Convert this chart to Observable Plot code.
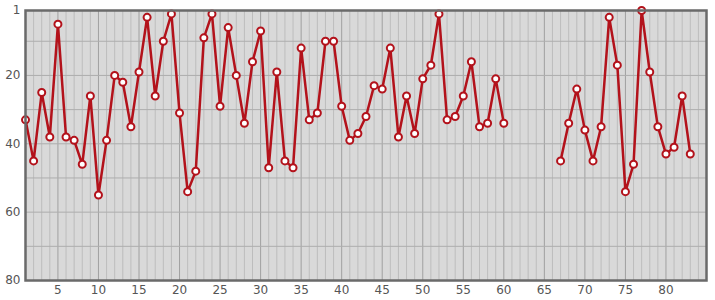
<!DOCTYPE html>
<html><head><meta charset="utf-8">
<script src="https://cdn.jsdelivr.net/npm/d3@7"></script>
<script src="https://cdn.jsdelivr.net/npm/@observablehq/plot@0.6"></script>
<style>body{margin:0;background:#fff}</style>
</head><body><div id="chart"></div>
<script>
const xValues = [1,2,3,4,5,6,7,8,9,10,11,12,13,14,15,16,17,18,19,20,
  21,22,23,24,25,26,27,28,29,30,31,32,33,34,35,36,37,38,39,40,
  41,42,43,44,45,46,47,48,49,50,51,52,53,54,55,56,57,58,59,60,
  61,62,63,64,65,66,67,68,69,70,71,72,73,74,75,76,77,78,79,80,81,82,83];
const yValues = [33,45,25,38,5,38,39,46,26,55,39,20,22,35,19,3,26,10,2,31,
  54,48,9,2,29,6,20,34,16,7,47,19,45,47,12,33,31,10,10,29,
  39,37,32,23,24,12,38,26,37,21,17,2,33,32,26,16,35,34,21,34,
  null,null,null,null,null,null,45,34,24,36,45,35,3,17,54,46,1,19,35,43,41,26,43];
const xTicks = [5,10,15,20,25,30,35,40,45,50,55,60,65,70,75,80];
const yTicks = [1,20,40,60,80];
const xMinorGrid = [2,3,4,6,7,8,9,11,12,13,14,16,17,18,19,21,22,23,24,26,27,28,29,
  31,32,33,34,36,37,38,39,41,42,43,44,46,47,48,49,51,52,53,54,56,57,58,59,
  61,62,63,64,66,67,68,69,71,72,73,74,76,77,78,79,81,82,83,84];
const xMajorGrid = [5,10,15,20,25,30,35,40,45,50,55,60,65,70,75,80];
const yGrid = [10,20,30,40,50,60,70];

const data = xValues.map((x, i) => ({x, y: yValues[i] == null ? undefined : yValues[i]}));
const red = "#b3121b";

const chart = Plot.plot({
  width: 715,
  height: 300,
  marginTop: 10,
  marginBottom: 20,
  marginLeft: 25,
  marginRight: 9,
  style: {fontFamily: "DejaVu Sans", fontSize: "12px", color: "#555", background: "#fff"},
  x: {domain: [1, 85], ticks: xTicks, tickSize: 0, tickPadding: 5, label: null},
  y: {domain: [1, 80], reverse: true, ticks: yTicks, tickSize: 0, tickPadding: 5, label: null},
  marks: [
    Plot.frame({fill: "#d9d9d9"}),
    Plot.ruleX(xMinorGrid, {stroke: "#bdbdbd", strokeWidth: 1}),
    Plot.ruleX(xMajorGrid, {stroke: "#a0a0a0", strokeWidth: 1}),
    Plot.ruleY(yGrid, {stroke: "#adadad", strokeWidth: 1}),
    Plot.line(data, {x: "x", y: "y", stroke: red, strokeWidth: 2.5}),
    Plot.dot(data, {x: "x", y: "y", r: 3.5, fill: "#fff", stroke: red, strokeWidth: 2}),
    Plot.frame({stroke: "#6a6a6a", strokeWidth: 2.5})
  ]
});
document.getElementById("chart").appendChild(chart);
</script>
</body></html>
